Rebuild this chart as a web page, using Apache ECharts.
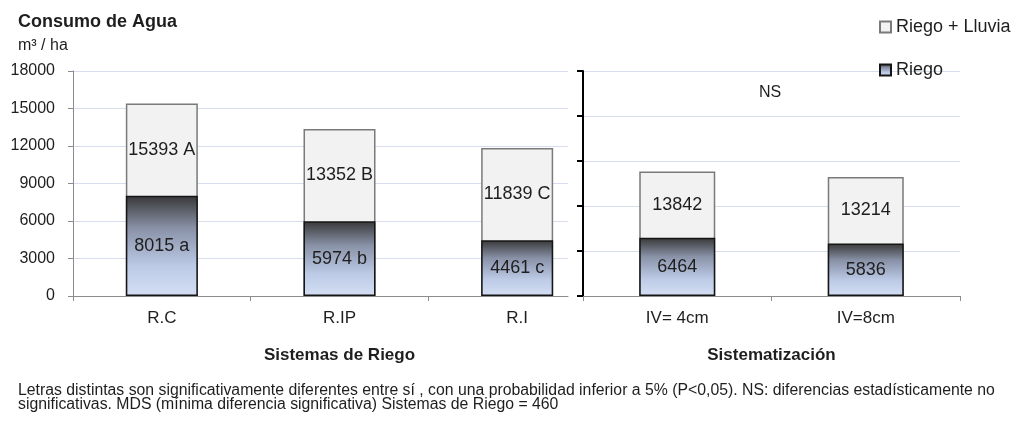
<!DOCTYPE html>
<html>
<head>
<meta charset="utf-8">
<script src="https://cdn.jsdelivr.net/npm/echarts@6/dist/echarts.min.js"></script>
<style>
  html, body { margin: 0; padding: 0; background: #fff; }
  #chart { width: 1021px; height: 424px; }
</style>
</head>
<body>
<div id="chart"></div>
<script>
// Consumo de agua (m³/ha): total (riego + lluvia) y solo riego
const sistemas = ['R.C', 'R.IP', 'R.I'];
const totalSistemas = [15393, 13352, 11839];
const riegoSistemas = [8015, 5974, 4461];
const letrasTotal = ['A', 'B', 'C'];
const letrasRiego = ['a', 'b', 'c'];

const sistematizacion = ['IV= 4cm', 'IV=8cm'];
const totalSistematizacion = [13842, 13214];
const riegoSistematizacion = [6464, 5836];

const FONT = "'Liberation Sans', Arial, sans-serif";
const TEXT = '#1e1e1e';

// plot widths: left bars span three category bands, its guides stop short of the right panel
const LEFT_BARS_W = 533;
const LEFT_GUIDE_W = 495;

const riegoFill = {
  type: 'linear', x: 0, y: 0, x2: 0, y2: 1,
  colorStops: [
    { offset: 0, color: '#383838' },
    { offset: 0.32, color: '#8891a6' },
    { offset: 0.7, color: '#bccae6' },
    { offset: 1, color: '#d4dff3' }
  ]
};
const totalStyle = { color: '#f2f2f2', borderColor: '#7a7a7a', borderWidth: 1.5 };
const riegoStyle = { color: riegoFill, borderColor: '#151515', borderWidth: 1.5 };
const labelFont = { fontFamily: FONT, fontSize: 18, color: TEXT };

// Total label sits in the middle of the part of the bar left visible above the riego bar
function totalItems(totals, riego, suffix) {
  return totals.map((v, i) => ({
    value: v,
    label: {
      position: ['50%', ((v - riego[i]) / (2 * v) * 100) + '%'],
      align: 'center',
      verticalAlign: 'middle',
      formatter: suffix ? v + ' ' + suffix[i] : String(v)
    }
  }));
}
function riegoItems(riego, suffix) {
  return riego.map((v, i) => ({
    value: v,
    label: { formatter: suffix ? v + ' ' + suffix[i] : String(v) }
  }));
}

const chart = echarts.init(document.getElementById('chart'), null, { renderer: 'canvas' });

const nBands = sistemas.length * LEFT_GUIDE_W / LEFT_BARS_W;

chart.setOption({
  animation: false,
  backgroundColor: '#fff',
  textStyle: { fontFamily: FONT },
  title: [
    { text: 'Consumo de Agua', left: 18, top: 13, padding: 0,
      textStyle: { fontFamily: FONT, fontSize: 18, fontWeight: 'bold', color: TEXT } },
    { text: 'm³ / ha', left: 18, top: 38, padding: 0,
      textStyle: { fontFamily: FONT, fontSize: 16, fontWeight: 'normal', color: TEXT } },
    { text: 'NS', left: 759, top: 85, padding: 0,
      textStyle: { fontFamily: FONT, fontSize: 16, fontWeight: 'normal', color: TEXT } },
    { text: 'Letras distintas son significativamente diferentes entre sí , con una probabilidad inferior a 5% (P<0,05). NS: diferencias estadísticamente no\nsignificativas. MDS (mínima diferencia significativa) Sistemas de Riego = 460',
      left: 18, top: 384, padding: 0,
      textStyle: { fontFamily: FONT, fontSize: 15.8, fontWeight: 'normal', color: TEXT, lineHeight: 14 } }
  ],
  legend: {
    data: ['Riego + Lluvia', 'Riego'],
    orient: 'vertical',
    left: 874, top: 13,
    itemWidth: 11, itemHeight: 11, itemGap: 25,
    icon: 'rect',
    textStyle: { fontFamily: FONT, fontSize: 18, color: TEXT },
    selectedMode: false
  },
  grid: [
    // bars, Sistemas de Riego
    { left: 73, width: LEFT_BARS_W, top: 71, bottom: 128 },
    // axis line, ticks and horizontal guides of the left panel
    { left: 73, width: LEFT_GUIDE_W, top: 71, bottom: 128 },
    // bars, Sistematización
    { left: 583, right: 61, top: 71, bottom: 128 }
  ],
  xAxis: [
    { gridIndex: 0, type: 'category', data: sistemas,
      name: 'Sistemas de Riego', nameLocation: 'middle', nameGap: 51,
      nameTextStyle: { fontFamily: FONT, fontSize: 17, fontWeight: 'bold', color: TEXT },
      axisLine: { show: false },
      axisTick: { show: false },
      axisLabel: { fontFamily: FONT, fontSize: 17, color: TEXT, margin: 14 } },
    { gridIndex: 1, type: 'value', min: 0, max: nBands,
      axisLine: { show: true, lineStyle: { color: '#8c8c8c', width: 1 } },
      axisTick: { show: true, length: 5, customValues: [0, 1, 2], lineStyle: { color: '#8c8c8c' } },
      axisLabel: { show: false }, splitLine: { show: false } },
    { gridIndex: 2, type: 'category', data: sistematizacion,
      name: 'Sistematización', nameLocation: 'middle', nameGap: 51,
      nameTextStyle: { fontFamily: FONT, fontSize: 17, fontWeight: 'bold', color: TEXT },
      axisLine: { show: true, lineStyle: { color: '#8c8c8c', width: 1 } },
      axisTick: { show: true, length: 5, lineStyle: { color: '#8c8c8c' } },
      axisLabel: { fontFamily: FONT, fontSize: 17, color: TEXT, margin: 14 } }
  ],
  yAxis: [
    { gridIndex: 0, type: 'value', min: 0, max: 18000, interval: 3000,
      axisLine: { show: true, lineStyle: { color: '#8c8c8c', width: 1 } },
      axisTick: { show: true, length: 5, lineStyle: { color: '#8c8c8c' } },
      axisLabel: { fontFamily: FONT, fontSize: 16, color: TEXT, margin: 18,
        formatter: v => String(v) },
      splitLine: { show: false } },
    { gridIndex: 1, type: 'value', min: 0, max: 18000, interval: 3000,
      axisLine: { show: false }, axisTick: { show: false }, axisLabel: { show: false },
      splitLine: { show: true, lineStyle: { color: '#d6dded', width: 1 } } },
    { gridIndex: 2, type: 'value', min: 0, max: 25000, interval: 5000,
      axisLine: { show: true, lineStyle: { color: '#000', width: 2 } },
      axisTick: { show: true, length: 6, lineStyle: { color: '#000', width: 2 } },
      axisLabel: { show: false },
      splitLine: { show: true, lineStyle: { color: '#d6dded', width: 1 } } }
  ],
  series: [
    { name: 'Riego + Lluvia', type: 'bar', xAxisIndex: 0, yAxisIndex: 0,
      barWidth: 72, itemStyle: totalStyle,
      label: Object.assign({ show: true }, labelFont),
      data: totalItems(totalSistemas, riegoSistemas, letrasTotal) },
    { name: 'Riego', type: 'bar', xAxisIndex: 0, yAxisIndex: 0,
      barWidth: 72, barGap: '-100%', itemStyle: riegoStyle,
      label: Object.assign({ show: true, position: 'inside' }, labelFont),
      data: riegoItems(riegoSistemas, letrasRiego) },
    { name: 'Riego + Lluvia', type: 'bar', xAxisIndex: 2, yAxisIndex: 2,
      barWidth: 76, itemStyle: totalStyle,
      label: Object.assign({ show: true }, labelFont),
      data: totalItems(totalSistematizacion, riegoSistematizacion, null) },
    { name: 'Riego', type: 'bar', xAxisIndex: 2, yAxisIndex: 2,
      barWidth: 76, barGap: '-100%', itemStyle: riegoStyle,
      label: Object.assign({ show: true, position: 'inside' }, labelFont),
      data: riegoItems(riegoSistematizacion, null) }
  ]
});
</script>
</body>
</html>
